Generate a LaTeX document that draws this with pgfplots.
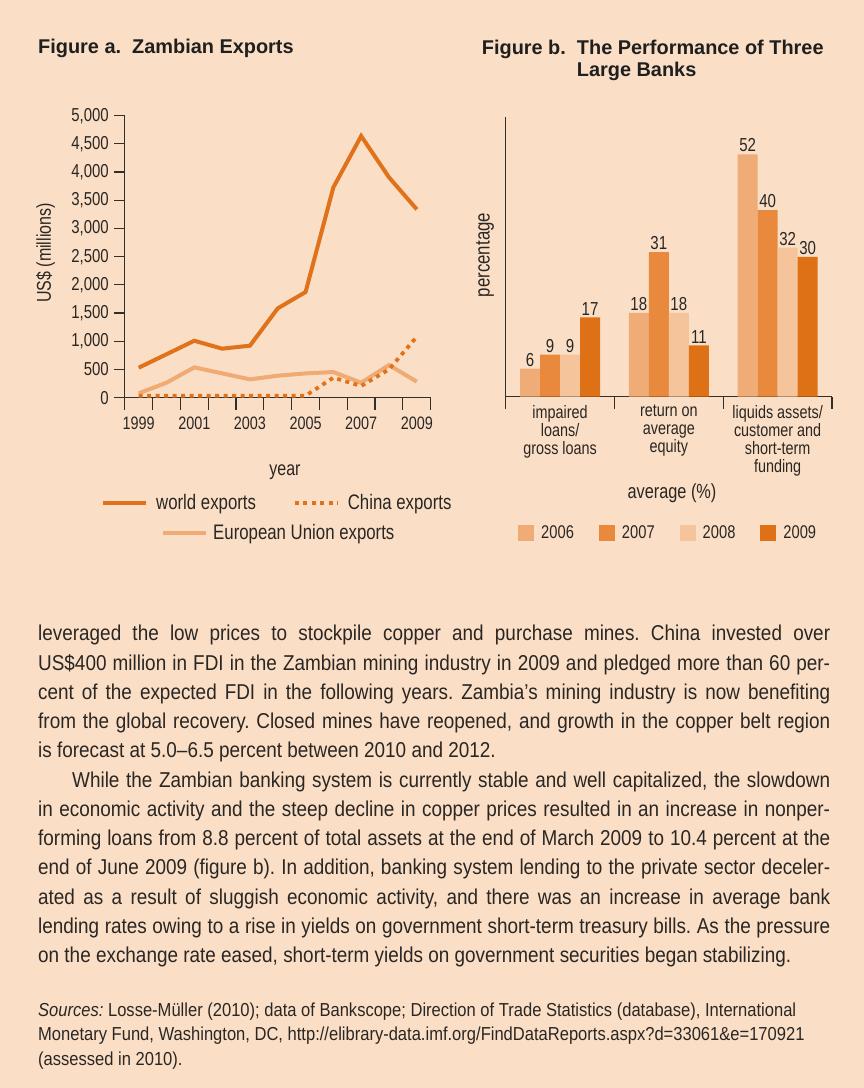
\documentclass[border=0pt]{standalone}
\usepackage{pgfplots}
\pgfplotsset{compat=1.18}
\usepackage{fontspec}
\setmainfont{Liberation Sans}[FakeStretch=0.88]
\newfontfamily\titlefont{Liberation Sans}
\newfontfamily\cfont{Liberation Sans}[FakeStretch=0.8]
\newcommand\fs[2]{\fontsize{#1}{#2}\selectfont}
\newcommand\cf[1]{\cfont\fontsize{#1}{#1}\selectfont}
\definecolor{bg}{RGB}{250,223,198}
\definecolor{worldc}{RGB}{224,114,28}
\definecolor{euc}{RGB}{240,170,115}
\definecolor{b2006}{RGB}{240,172,118}
\definecolor{b2007}{RGB}{232,137,62}
\definecolor{b2008}{RGB}{245,196,155}
\definecolor{b2009}{RGB}{222,112,22}
\definecolor{textc}{RGB}{42,38,35}
\definecolor{axisc}{RGB}{50,46,42}
\frenchspacing
\newcommand\jl[2]{\node[anchor=base west,inner sep=0pt,text=textc,font=\fs{21.5}{29}] at (38,1088-#1) {\makebox[792pt][s]{#2}};}
\begin{document}
\begin{tikzpicture}[x=1pt,y=1pt]
\path[use as bounding box, fill=bg] (0,0) rectangle (864,1088);

% ---------- Figure a ----------
\begin{axis}[
  at={(124.8pt,690.3pt)}, anchor=south west,
  scale only axis, width=305.9pt, height=282pt,
  xmin=1998.5, xmax=2009.5, ymin=0, ymax=5000,
  axis x line*=bottom, axis y line*=left,
  axis line style={-, draw=axisc, line width=1.3pt},
  tick align=outside,
  major tick length=10.5pt, minor tick length=12pt,
  xtick={1999,2001,2003,2005,2007,2009},
  xticklabels={1999,2001,2003,2005,2007,2009},
  minor xtick={1998.5,1999.5,2000.5,2001.5,2002.5,2003.5,2004.5,2005.5,2006.5,2007.5,2008.5,2009.5},
  ytick={0,500,1000,1500,2000,2500,3000,3500,4000,4500,5000},
  tick style={draw=axisc, line width=1.2pt},
  major x tick style={draw=none},
  x tick label style={font=\cf{18}, text=textc, yshift=-5pt},
  y tick label style={font=\cf{18.7}, text=textc, xshift=-2pt},
  /pgf/number format/.cd, 1000 sep={,}, assume math mode=true, /pgfplots/.cd,
  legend columns=2,
  legend style={at={(axis description cs:-0.078,-0.3734)}, anchor=west, draw=none, fill=none, inner sep=0pt,
    font=\cf{21}, text=textc, /tikz/every even column/.append style={column sep=35pt},
    /tikz/every odd column/.append style={column sep=6pt}},
  legend image code/.code={\draw[#1] (0pt,0pt) -- (43pt,0pt);},
]
\addplot[euc, line width=4pt, forget plot] coordinates {(1999,77) (2000,266) (2001,538) (2002,431) (2003,325) (2004,390) (2005,431) (2006,455) (2007,266) (2008,579) (2009,284)};
\addplot[worldc, line width=4pt] coordinates {(1999,532) (2000,770) (2001,1010) (2002,869) (2003,922) (2004,1584) (2005,1873) (2006,3729) (2007,4639) (2008,3907) (2009,3339)};
\addlegendentry{world exports}
\addplot[worldc, line width=3.8pt, dash pattern=on 4pt off 4.5pt] coordinates {(1999,35) (2000,35) (2001,35) (2002,35) (2003,35) (2004,35) (2005,35) (2006,355) (2007,207) (2008,502) (2009,1081)};
\addlegendentry{China exports}
\end{axis}

\begin{axis}[
  at={(124.8pt,690.3pt)}, anchor=south west,
  scale only axis, width=305.9pt, height=282pt, hide axis,
  xmin=0, xmax=1, ymin=0, ymax=1,
  legend style={at={(axis description cs:0.1184,-0.4798)}, anchor=west, draw=none, fill=none, inner sep=0pt,
    font=\cf{21}, text=textc, /tikz/every odd column/.append style={column sep=3pt}},
  legend image code/.code={\draw[#1] (0pt,0pt) -- (43pt,0pt);},
]
\addlegendimage{euc, line width=4pt}
\addlegendentry{European Union exports}
\end{axis}

% ---------- Figure b ----------
\begin{axis}[
  at={(505.7pt,691.3pt)}, anchor=south west,
  scale only axis, width=326.3pt, height=279.7pt,
  ybar=0pt, bar width=20pt,
  xmin=-0.5, xmax=2.5, ymin=0, ymax=60,
  axis x line*=bottom, axis y line*=left,
  axis line style={-, draw=axisc, line width=1.3pt},
  ytick=\empty, xtick={0,1,2},
  xticklabels={{impaired\\loans/\\gross loans},{return on\\average\\equity},{liquids assets/\\customer and\\short-term\\funding}},
  x tick label style={align=center, font=\cfont\fs{18}{18}, text=textc, yshift=-5pt},
  tick align=outside, major tick length=0pt, minor tick length=12pt,
  minor xtick={-0.5,0.5,1.5,2.5},
  tick style={draw=axisc, line width=1.2pt},
  major x tick style={draw=none},
  nodes near coords,
  nodes near coords style={font=\cf{18.8}, text=textc, inner sep=2pt},
  /pgf/number format/assume math mode=true,
  legend columns=4,
  legend style={at={(axis description cs:0.0377,-0.4873)}, anchor=west, draw=none, fill=none, inner sep=0pt,
    font=\cf{18.4}, text=textc, /tikz/every even column/.append style={column sep=23pt},
    /tikz/every odd column/.append style={column sep=5pt}},
  legend image code/.code={\fill[#1] (0pt,-8pt) rectangle (16pt,8pt);},
]
\addplot[fill=b2006, draw=none] coordinates {(0,6) (1,18) (2,52)};
\addlegendentry{2006}
\addplot[fill=b2007, draw=none] coordinates {(0,9) (1,31) (2,40)};
\addlegendentry{2007}
\addplot[fill=b2008, draw=none] coordinates {(0,9) (1,18) (2,32)};
\addlegendentry{2008}
\addplot[fill=b2009, draw=none] coordinates {(0,17) (1,11) (2,30)};
\addlegendentry{2009}
\end{axis}

% ---------- labels and titles ----------
\node[rotate=90, font=\cf{20}, text=textc] at (45.5,1088-253) {US\$ (millions)};
\node[font=\cf{20}, text=textc] at (285,1088-472) {year};
\node[rotate=90, font=\cf{21}, text=textc] at (485,1088-255) {percentage};
\node[font=\cf{20.4}, text=textc] at (672,1088-493) {average (\%)};

\node[anchor=base west, inner sep=0pt, font=\titlefont\bfseries\fs{19.9}{22}, text=black!88] at (38,1088-54) {Figure a.\ \ Zambian Exports};
\node[anchor=base west, inner sep=0pt, font=\titlefont\bfseries\fs{19.9}{22}, text=black!88] at (481.7,1088-55) {Figure b.\ \ The Performance of Three};
\node[anchor=base west, inner sep=0pt, font=\titlefont\bfseries\fs{19.9}{22}, text=black!88] at (576.7,1088-77) {Large Banks};

% ---------- body text ----------
\jl{641}{leveraged the low prices to stockpile copper and purchase mines. China invested over}
\jl{670.25}{US\$400 million in FDI in the Zambian mining industry in 2009 and pledged more than 60 per-}
\jl{699.5}{cent of the expected FDI in the following years. Zambia’s mining industry is now benefiting}
\jl{728.75}{from the global recovery. Closed mines have reopened, and growth in the copper belt region}
\node[anchor=base west,inner sep=0pt,text=textc,font=\fs{21.5}{29}] at (38,1088-758) {is forecast at 5.0–6.5 percent between 2010 and 2012.};
\node[anchor=base west,inner sep=0pt,text=textc,font=\fs{21.5}{29}] at (72,1088-787.25) {\makebox[758pt][s]{While the Zambian banking system is currently stable and well capitalized, the slowdown}};
\jl{816.5}{in economic activity and the steep decline in copper prices resulted in an increase in nonper-}
\jl{845.75}{forming loans from 8.8 percent of total assets at the end of March 2009 to 10.4 percent at the}
\jl{875}{end of June 2009 (figure b). In addition, banking system lending to the private sector deceler-}
\jl{904.25}{ated as a result of sluggish economic activity, and there was an increase in average bank}
\jl{933.5}{lending rates owing to a rise in yields on government short-term treasury bills. As the pressure}
\node[anchor=base west,inner sep=0pt,text=textc,font=\fs{21.5}{29}] at (38,1088-962.75) {on the exchange rate eased, short-term yields on government securities began stabilizing.};

\node[anchor=base west,inner sep=0pt,text=textc,font=\fs{18.8}{24}] at (38,1088-1017) {\textit{Sources:} Losse-Müller (2010); data of Bankscope; Direction of Trade Statistics (database), International};
\node[anchor=base west,inner sep=0pt,text=textc,font=\fs{18.8}{24}] at (38,1088-1041) {Monetary Fund, Washington, DC, http://elibrary-data.imf.org/FindDataReports.aspx?d=33061\&e=170921};
\node[anchor=base west,inner sep=0pt,text=textc,font=\fs{18.8}{24}] at (38,1088-1065) {(assessed in 2010).};
\end{tikzpicture}
\end{document}
